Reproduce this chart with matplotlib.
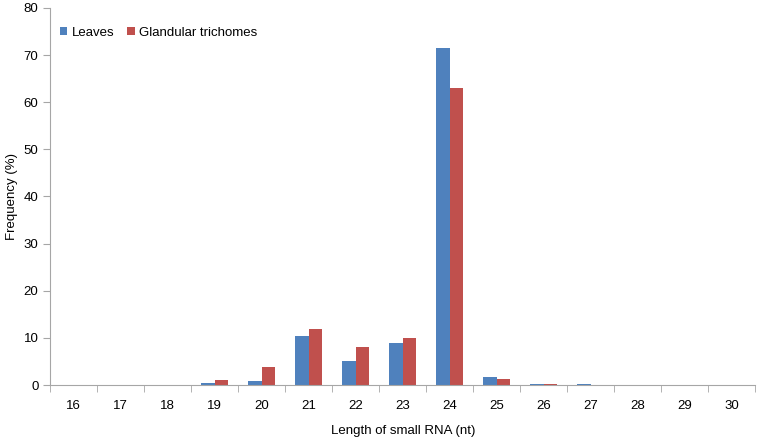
import numpy as np
import matplotlib
matplotlib.use("Agg")
import matplotlib.pyplot as plt

plt.rcParams['font.family'] = ['Liberation Sans', 'DejaVu Sans']

lengths = [16, 17, 18, 19, 20, 21, 22, 23, 24, 25, 26, 27, 28, 29, 30]
leaves = [0, 0, 0.1, 0.4, 0.8, 10.5, 5.0, 9.0, 71.5, 1.7, 0.3, 0.2, 0, 0, 0]
trichomes = [0, 0, 0.1, 1.0, 3.8, 11.8, 8.0, 10.0, 63.0, 1.3, 0.2, 0.1, 0, 0, 0]

fig = plt.figure(figsize=(7.62, 4.38), dpi=100)
ax = fig.add_axes([0.066, 0.121, 0.925, 0.861])

x = np.arange(len(lengths))
w = 0.29
ax.bar(x - w / 2, leaves, w, color="#4F81BD", label="Leaves")
ax.bar(x + w / 2, trichomes, w, color="#C0504D", label="Glandular trichomes")

ax.set_xlim(-0.5, len(lengths) - 0.5)
ax.set_ylim(0, 80)
ax.set_yticks(range(0, 81, 10))
ax.set_xticks(x)
ax.set_xticklabels([str(v) for v in lengths])
ax.set_xticks(np.arange(-0.5, len(lengths), 1), minor=True)
ax.tick_params(axis="x", which="major", length=0, pad=11, labelsize=9.5)
ax.tick_params(axis="x", which="minor", length=5, color="#A6A6A6")
ax.tick_params(axis="y", length=5, color="#A6A6A6", labelsize=9.5)

for s in ["top", "right"]:
    ax.spines[s].set_visible(False)
for s in ["left", "bottom"]:
    ax.spines[s].set_color("#A6A6A6")

ax.set_xlabel("Length of small RNA (nt)", fontsize=9.5, labelpad=9)
ax.set_ylabel("Frequency (%)", fontsize=9.5)

ax.legend(loc="upper left", bbox_to_anchor=(0.0, 0.975), ncol=2, frameon=False,
          fontsize=9.5, handlelength=0.6, handleheight=0.6, handletextpad=0.3,
          columnspacing=1.0, borderaxespad=0.3)

fig.savefig("out.png", dpi=100)
